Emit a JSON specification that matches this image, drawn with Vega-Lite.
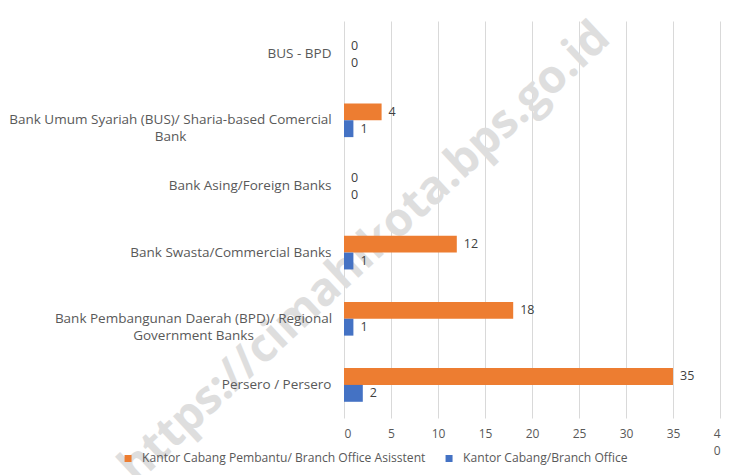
{
  "$schema": "https://vega.github.io/schema/vega-lite/v6.json",
  "width": 376,
  "height": 397,
  "autosize": "none",
  "padding": {"left": 344, "top": 21, "right": 13, "bottom": 57},
  "background": "white",
  "config": {
    "view": {"stroke": null},
    "font": "Open Sans",
    "text": {"font": "Open Sans"}
  },
  "datasets": {
    "bars": [
      {"bank": "BUS - BPD", "series": "Kantor Cabang Pembantu/ Branch Office Asisstent", "value": 0},
      {"bank": "BUS - BPD", "series": "Kantor Cabang/Branch Office", "value": 0},
      {"bank": "Bank Umum Syariah (BUS)/ Sharia-based Comercial|Bank", "series": "Kantor Cabang Pembantu/ Branch Office Asisstent", "value": 4},
      {"bank": "Bank Umum Syariah (BUS)/ Sharia-based Comercial|Bank", "series": "Kantor Cabang/Branch Office", "value": 1},
      {"bank": "Bank Asing/Foreign Banks", "series": "Kantor Cabang Pembantu/ Branch Office Asisstent", "value": 0},
      {"bank": "Bank Asing/Foreign Banks", "series": "Kantor Cabang/Branch Office", "value": 0},
      {"bank": "Bank Swasta/Commercial Banks", "series": "Kantor Cabang Pembantu/ Branch Office Asisstent", "value": 12},
      {"bank": "Bank Swasta/Commercial Banks", "series": "Kantor Cabang/Branch Office", "value": 1},
      {"bank": "Bank Pembangunan Daerah (BPD)/ Regional|Government Banks", "series": "Kantor Cabang Pembantu/ Branch Office Asisstent", "value": 18},
      {"bank": "Bank Pembangunan Daerah (BPD)/ Regional|Government Banks", "series": "Kantor Cabang/Branch Office", "value": 1},
      {"bank": "Persero / Persero", "series": "Kantor Cabang Pembantu/ Branch Office Asisstent", "value": 35},
      {"bank": "Persero / Persero", "series": "Kantor Cabang/Branch Office", "value": 2}
    ],
    "mark": [
      {"bank": "Bank Swasta/Commercial Banks", "value": 2.2, "text": "https://cimahikota.bps.go.id"}
    ]
  },
  "layer": [
    {
      "data": {"name": "mark"},
      "mark": {"type": "text", "angle": -43, "fontSize": 46, "fontWeight": "bold", "font": "Open Sans", "color": "#dedede", "align": "center", "baseline": "middle"},
      "encoding": {
        "x": {"field": "value", "type": "quantitative"},
        "y": {"field": "bank", "type": "nominal"},
        "text": {"field": "text"}
      }
    },
    {
      "data": {"name": "bars"},
      "mark": {"type": "bar"},
      "encoding": {
        "y": {
          "field": "bank", "type": "nominal",
          "scale": {"domain": ["BUS - BPD", "Bank Umum Syariah (BUS)/ Sharia-based Comercial|Bank", "Bank Asing/Foreign Banks", "Bank Swasta/Commercial Banks", "Bank Pembangunan Daerah (BPD)/ Regional|Government Banks", "Persero / Persero"], "paddingInner": 0.49, "paddingOuter": 0.245},
          "axis": {
            "title": null, "domain": false, "ticks": false, "zindex": 1,
            "labelExpr": "split(datum.label, '|')",
            "labelFont": "Open Sans", "labelFontSize": 13.5, "labelColor": "#595959",
            "labelAlign": {"condition": {"test": "indexof(datum.value, '|') >= 0", "value": "center"}, "value": "right"},
            "labelPadding": {"condition": [
              {"test": "indexof(datum.value, 'Syariah') >= 0", "value": 174},
              {"test": "indexof(datum.value, 'Pembangunan') >= 0", "value": 151}
            ], "value": 13},
            "labelLineHeight": 17, "labelLimit": 400
          }
        },
        "yOffset": {
          "field": "series", "type": "nominal",
          "sort": ["Kantor Cabang Pembantu/ Branch Office Asisstent", "Kantor Cabang/Branch Office"],
          "scale": {"paddingInner": 0, "paddingOuter": 0}
        },
        "x": {
          "field": "value", "type": "quantitative",
          "scale": {"domain": [0, 40], "nice": false},
          "axis": {
            "title": null, "domain": false, "ticks": false, "values": [0, 5, 10, 15, 20, 25, 30, 35, 40],
            "labelExpr": "datum.value == 40 ? ['4', '0'] : datum.label",
            "labelOverlap": false,
            "labelFont": "Open Sans", "labelFontSize": 12, "labelColor": "#595959", "labelPadding": 10,
            "labelLineHeight": 17,
            "grid": true, "gridColor": "#d9d9d9", "gridWidth": 1
          }
        },
        "color": {
          "field": "series", "type": "nominal",
          "scale": {"domain": ["Kantor Cabang Pembantu/ Branch Office Asisstent", "Kantor Cabang/Branch Office"], "range": ["#ED7D31", "#4472C4"]},
          "legend": {
            "title": null, "orient": "none", "direction": "horizontal",
            "legendX": -222, "legendY": 431,
            "symbolType": "square", "symbolSize": 49, "symbolStrokeWidth": 0,
            "labelFont": "Open Sans", "labelFontSize": 12.1, "labelColor": "#595959",
            "labelOffset": 8, "columnPadding": 17, "labelLimit": 400
          }
        }
      }
    },
    {
      "data": {"name": "bars"},
      "mark": {"type": "text", "align": "left", "baseline": "middle", "dx": 7, "fontSize": 12.5, "font": "Open Sans", "color": "#404040"},
      "encoding": {
        "y": {"field": "bank", "type": "nominal"},
        "yOffset": {"field": "series", "type": "nominal", "sort": ["Kantor Cabang Pembantu/ Branch Office Asisstent", "Kantor Cabang/Branch Office"]},
        "x": {"field": "value", "type": "quantitative"},
        "text": {"field": "value", "type": "quantitative"}
      }
    }
  ]
}
